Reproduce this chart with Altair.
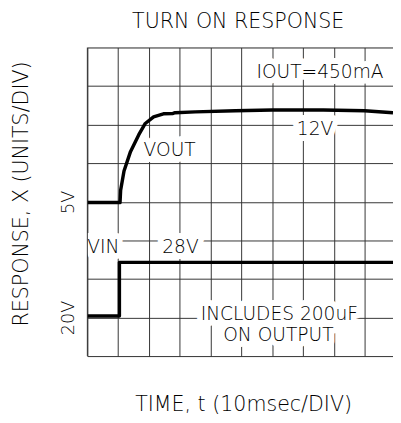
import altair as alt
import pandas as pd

# VOUT trace (x in divisions, y in divisions from bottom)
vout_x = [0, 1.06, 1.08, 1.19, 1.40, 1.67, 1.88, 2.15, 2.47, 2.78, 2.85, 3.5, 4.8, 6.0, 7.66, 9.0, 9.92]
vout_y = [3.98, 3.98, 4.30, 4.80, 5.30, 5.74, 6.03, 6.20, 6.28, 6.29, 6.31, 6.33, 6.36, 6.38, 6.38, 6.36, 6.31]

# VIN trace
vin_x = [0, 1.04, 1.04, 9.92]
vin_y = [1.04, 1.04, 2.43, 2.43]

# annotations
ann_text = ["IOUT=450mA", "12V", "VOUT", "VIN", "28V", "INCLUDES 200uF", "ON OUTPUT"]
ann_x = [7.55, 7.39, 2.67, 0.52, 3.02, 6.23, 6.20]
ann_y = [7.21, 5.74, 5.18, 2.66, 2.66, 0.94, 0.40]

x_grid = list(range(0, 10))
y_grid = list(range(0, 9))

FONT = "DejaVu Sans"
GRID = "#333333"
WEIGHT = 200

traces = pd.DataFrame({
    "t": vout_x + vin_x,
    "v": vout_y + vin_y,
    "series": ["VOUT"] * len(vout_x) + ["VIN"] * len(vin_x),
    "i": list(range(len(vout_x))) + list(range(len(vin_x))),
})
ann = pd.DataFrame({"label": ann_text, "x": ann_x, "y": ann_y})

xscale = alt.Scale(domain=[0, 9.92], nice=False, zero=False)
yscale = alt.Scale(domain=[0, 8], nice=False, zero=False)

xaxis = alt.Axis(values=x_grid, grid=True, gridColor=GRID, gridOpacity=1, gridWidth=1,
                 domain=False, ticks=False, labels=False,
                 title="TIME, t (10msec/DIV)", titleFont=FONT, titleFontSize=21,
                 titleFontWeight=WEIGHT, titleColor="black",
                 titleBaseline="alphabetic", titleAlign="center", titleX=159, titleY=56)
yaxis = alt.Axis(values=y_grid, grid=True, gridColor=GRID, gridOpacity=1, gridWidth=1,
                 domain=False, ticks=False, tickSize=0, labelOverlap=False,
                 labelExpr="datum.value == 4 ? '5V' : datum.value == 1 ? '20V' : ''",
                 labelAngle=270, labelAlign="center", labelBaseline="alphabetic",
                 labelPadding=14, labelFont=FONT, labelFontSize=18, labelColor="black",
                 labelFontWeight=WEIGHT,
                 title="RESPONSE, X (UNITS/DIV)", titleFont=FONT, titleFontSize=21,
                 titleFontWeight=WEIGHT, titleColor="black", titleAngle=270,
                 titleBaseline="alphabetic", titleAlign="center", titleX=-61, titleY=149)

X_ann = alt.X("x:Q", scale=xscale, axis=xaxis)
Y_ann = alt.Y("y:Q", scale=yscale, axis=yaxis)

base_ann = alt.Chart(ann).encode(x=X_ann, y=Y_ann, text="label:N")

halo = base_ann.mark_text(font=FONT, fontSize=19, fontWeight=WEIGHT, baseline="alphabetic",
                          align="center", color="white", stroke="white", strokeWidth=12,
                          strokeJoin="round")

lines = alt.Chart(traces).mark_line(color="black", strokeWidth=3.5, strokeJoin="round",
                                    strokeCap="butt").encode(
    x=alt.X("t:Q", scale=xscale, axis=xaxis),
    y=alt.Y("v:Q", scale=yscale, axis=yaxis),
    detail="series:N",
    order="i:Q",
)

texts = base_ann.mark_text(font=FONT, fontSize=19, fontWeight=WEIGHT, baseline="alphabetic",
                           align="center", color="black")

border = alt.Chart(pd.DataFrame({"x": [0]})).mark_rule(color=GRID, strokeWidth=1).encode(
    x=alt.X("x:Q", scale=xscale, axis=xaxis)
)

chart = alt.layer(halo, lines, texts, border).properties(
    width=312,
    height=315,
    title=alt.TitleParams("TURN ON RESPONSE", font=FONT, fontSize=21, fontWeight=WEIGHT,
                          color="black", anchor="middle", baseline="alphabetic",
                          offset=-2, dx=-2),
    padding={"left": 81, "top": 36, "right": 0, "bottom": 64},
    autosize=alt.AutoSizeParams(type="none"),
).configure_view(stroke=None).configure(background="white")

chart.save("out.html", embed_options={"renderer": "svg", "actions": False})
